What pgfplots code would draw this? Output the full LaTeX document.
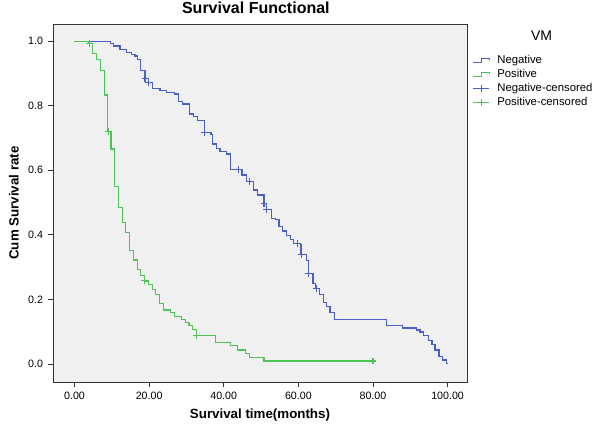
\documentclass[border=0pt]{standalone}
\usepackage{fontspec}
\setmainfont{Liberation Sans}
\usepackage{pgfplots}
\pgfplotsset{compat=1.18}
\definecolor{negblue}{RGB}{72,96,200}
\definecolor{posgreen}{RGB}{76,196,86}
\definecolor{panel}{RGB}{240,240,240}
\begin{document}
\begin{tikzpicture}
\path[use as bounding box] (-39.75pt,-37.5pt) rectangle (410.25pt,286.5pt);
\begin{axis}[
  scale only axis, width=310.5pt, height=268.5pt,
  xmin=-5.76, xmax=105.2, ymin=-0.056, ymax=1.053,
  axis background/.style={fill=panel},
  axis line style={black!80, line width=0.6pt},
  tick align=outside, major tick length=4pt,
  xtick pos=left, ytick pos=left,
  xtick={0,20,40,60,80,100}, ytick={0,0.2,0.4,0.6,0.8,1.0},
  tick style={black!80, line width=0.6pt},
  x tick label style={/pgf/number format/.cd, fixed, fixed zerofill, precision=2},
  y tick label style={/pgf/number format/.cd, fixed, fixed zerofill, precision=1},
  /pgf/number format/assume math mode=true,
  tick label style={font=\fontsize{8}{9}\selectfont},
  every axis title shift=0pt,
  title={\textbf{Survival Functional}},
  title style={font=\fontsize{12}{14}\selectfont, at={(axis description cs:0.49,1.03)}, anchor=base},
  xlabel={\textbf{Survival time(months)}},
  xlabel style={font=\fontsize{10}{12}\selectfont, at={(axis description cs:0.5,-0.103)}, anchor=base},
  ylabel={\textbf{Cum Survival rate}},
  ylabel style={font=\fontsize{10}{12}\selectfont, at={(axis description cs:-0.083,0.5)}, anchor=base},
  legend style={at={(axis description cs:1.004,0.928)}, anchor=north west, draw=none, fill=none,
    font=\fontsize{8.5}{10}\selectfont, row sep=-1.2pt,
    nodes={inner xsep=5.5pt}},
  legend cell align=left,
  clip=false,
]
% Negative
\addplot[const plot, negblue, line width=0.9pt,
  legend image code/.code={\draw[negblue, line width=0.8pt] (0pt,-1.5pt) -- (6pt,-1.5pt) -- (6pt,1.5pt) -- (12pt,1.5pt) -- (12pt,0pt);}]
coordinates {
(0,1.0) (9.7,0.993) (10.4,0.985) (12.2,0.974) (14.0,0.965) (15.3,0.959) (16.2,0.954)
(16.8,0.944) (17.7,0.908) (18.9,0.884) (19.8,0.871) (20.9,0.853) (22.9,0.848) (24.7,0.841)
(26.7,0.836) (27.8,0.812) (28.9,0.805) (30.8,0.774) (31.9,0.766) (32.9,0.755) (34.8,0.717)
(36.6,0.711) (36.9,0.681) (38.0,0.668) (39.0,0.659) (40.8,0.650) (41.9,0.603) (44.9,0.585)
(46.2,0.564) (47.9,0.539) (49.0,0.523) (50.8,0.497) (51.5,0.478) (52.9,0.451) (53.8,0.448)
(54.8,0.425) (55.8,0.412) (56.9,0.397) (58.0,0.386) (58.8,0.374) (60.5,0.371) (60.7,0.339)
(62.2,0.321) (62.8,0.281) (63.9,0.249) (64.7,0.234) (65.6,0.214) (66.7,0.190) (67.6,0.177)
(68.5,0.159) (69.6,0.138) (83.7,0.118) (87.9,0.111) (91.7,0.105) (92.6,0.099) (93.5,0.087)
(94.9,0.072) (95.8,0.059) (96.6,0.043) (97.7,0.023) (98.7,0.012) (99.8,0.002) (100.0,0.002)
};
\addlegendentry{Negative}
% Positive
\addplot[const plot, posgreen, line width=0.9pt,
  legend image code/.code={\draw[posgreen, line width=0.8pt] (0pt,-1.5pt) -- (6pt,-1.5pt) -- (6pt,1.5pt) -- (12pt,1.5pt) -- (12pt,0pt);}]
coordinates {
(0,1.0) (3.7,0.993) (4.8,0.962) (5.8,0.944) (7.0,0.910) (8.0,0.833) (8.8,0.721) (9.8,0.666)
(10.8,0.549) (11.9,0.484) (12.8,0.437) (13.7,0.408) (14.8,0.351) (15.9,0.322) (16.8,0.293)
(17.7,0.275) (18.8,0.257) (19.8,0.247) (20.9,0.231) (21.8,0.216) (22.7,0.186) (23.8,0.167)
(25.7,0.159) (26.7,0.148) (28.7,0.138) (29.7,0.129) (30.7,0.119) (31.7,0.107) (32.8,0.088)
(37.8,0.066) (41.9,0.056) (43.7,0.043) (45.9,0.033) (46.9,0.021) (50.8,0.009) (80.0,0.009)
};
\addlegendentry{Positive}
% censored marks
\addplot[only marks, mark=+, mark size=2.6pt, negblue, mark options={line width=0.8pt},
  legend image code/.code={\draw[negblue, line width=0.8pt] (0pt,0pt) -- (12pt,0pt); \draw[negblue, line width=0.8pt] (6pt,-2.6pt) -- (6pt,2.6pt);}]
coordinates {
(18.9,0.884) (19.9,0.871) (34.8,0.717) (43.9,0.603) (46.9,0.564) (50.8,0.497) (51.5,0.478)
(59.8,0.374) (60.9,0.339) (62.7,0.281) (64.8,0.234)
};
\addlegendentry{Negative-censored}
\addplot[only marks, mark=+, mark size=2.6pt, posgreen, mark options={line width=0.8pt},
  legend image code/.code={\draw[posgreen, line width=0.8pt] (0pt,0pt) -- (12pt,0pt); \draw[posgreen, line width=0.8pt] (6pt,-2.6pt) -- (6pt,2.6pt);}]
coordinates {
(3.9,0.993) (9.0,0.721) (18.7,0.257) (32.8,0.088) (80.0,0.009)
};
\addlegendentry{Positive-censored}
\node[font=\fontsize{10.5}{12}\selectfont] at (axis description cs:1.18,0.966) {VM};
\end{axis}
\end{tikzpicture}
\end{document}
